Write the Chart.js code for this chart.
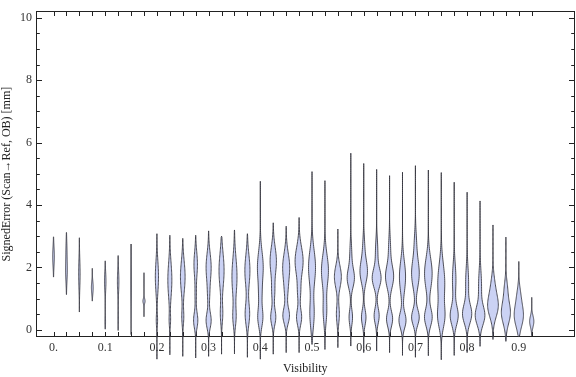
<!DOCTYPE html>
<html>
<head>
<meta charset="utf-8">
<script src="https://cdn.jsdelivr.net/npm/chart.js@4"></script>
<style>
  body { margin: 0; background: #fff; }
  #wrap { width: 576px; height: 377px; }
</style>
</head>
<body>
<div id="wrap"><canvas id="violinChart" width="576" height="377"></canvas></div>
<script>
// one violin per visibility bin
const visibility = [0, 0.025, 0.05, 0.075, 0.1, 0.125, 0.15, 0.175, 0.2, 0.225,
  0.25, 0.275, 0.3, 0.325, 0.35, 0.375, 0.4, 0.425, 0.45, 0.475,
  0.5, 0.525, 0.55, 0.575, 0.6, 0.625, 0.65, 0.675, 0.7, 0.725,
  0.75, 0.775, 0.8, 0.825, 0.85, 0.875, 0.9, 0.925];

const errMin = [1.69, 1.13, 0.57, 0.92, 0.02, -0.02, -0.15, 0.42, -0.94, -0.8,
  -0.85, -0.9, -0.85, -0.78, -0.77, -0.88, -0.94, -0.78, -0.73, -0.73,
  -0.47, -0.63, -0.57, -0.52, -0.73, -0.68, -0.73, -0.82, -0.88, -0.83,
  -0.96, -0.82, -0.73, -0.53, -0.31, -0.37, -0.21, -0.19];

const errMax = [2.98, 3.12, 2.95, 1.97, 2.21, 2.38, 2.75, 1.83, 3.08, 3.03,
  2.93, 3.03, 3.17, 3.0, 3.2, 3.08, 4.76, 3.43, 3.32, 3.6,
  5.07, 4.78, 3.23, 5.66, 5.33, 5.14, 4.94, 5.05, 5.26, 5.12,
  5.04, 4.73, 4.41, 4.13, 3.36, 2.97, 2.19, 1.04];

// density modes per violin: [centre (mm), relative density, spread (mm)]
const densityModes = [
  [[2.35, 0.16, 0.3]],
  [[1.9, 0.16, 0.35], [2.6, 0.08, 0.3]],
  [[1.8, 0.14, 0.45]],
  [[1.35, 0.17, 0.2]],
  [[1.55, 0.14, 0.3], [0.25, 0.06, 0.15]],
  [[1.55, 0.14, 0.35], [0.4, 0.04, 0.2]],
  [[1.4, 0.06, 0.6]],
  [[0.92, 0.2, 0.08]],
  [[1.7, 0.3, 0.5], [0.3, 0.12, 0.2]],
  [[1.6, 0.38, 0.55], [0.3, 0.12, 0.2]],
  [[1.7, 0.44, 0.5], [0.4, 0.18, 0.25]],
  [[2.1, 0.33, 0.4], [0.3, 0.4, 0.25], [1.1, 0.12, 0.3]],
  [[2.0, 0.48, 0.45], [0.3, 0.48, 0.25], [1.1, 0.15, 0.3]],
  [[1.9, 0.48, 0.55], [0.5, 0.22, 0.3]],
  [[1.7, 0.48, 0.6], [0.4, 0.28, 0.3]],
  [[1.9, 0.48, 0.5], [0.5, 0.42, 0.35]],
  [[2.0, 0.55, 0.5], [0.4, 0.48, 0.3], [1.1, 0.2, 0.3]],
  [[2.2, 0.6, 0.45], [0.4, 0.48, 0.25], [1.2, 0.25, 0.3]],
  [[2.0, 0.66, 0.45], [0.45, 0.62, 0.25], [1.2, 0.2, 0.3]],
  [[2.2, 0.76, 0.45], [0.4, 0.48, 0.25], [1.2, 0.25, 0.3]],
  [[2.0, 0.66, 0.55], [0.5, 0.4, 0.45]],
  [[1.9, 0.66, 0.5], [0.6, 0.33, 0.4]],
  [[1.7, 0.66, 0.35], [0.5, 0.28, 0.3]],
  [[1.65, 0.66, 0.3], [0.4, 0.33, 0.25], [2.4, 0.18, 0.4]],
  [[1.85, 0.68, 0.35], [0.4, 0.43, 0.25], [2.6, 0.18, 0.4]],
  [[1.65, 0.82, 0.3], [0.45, 0.48, 0.25], [2.5, 0.22, 0.4]],
  [[1.7, 0.76, 0.35], [0.35, 0.58, 0.25], [2.6, 0.18, 0.4]],
  [[1.7, 0.58, 0.5], [0.3, 0.66, 0.25]],
  [[1.8, 0.72, 0.45], [0.4, 0.72, 0.25], [2.8, 0.18, 0.4]],
  [[1.8, 0.72, 0.5], [0.4, 0.72, 0.28]],
  [[1.5, 0.66, 0.6], [0.4, 0.58, 0.35]],
  [[1.6, 0.33, 0.5], [0.45, 0.74, 0.3]],
  [[1.5, 0.28, 0.5], [0.5, 0.84, 0.3]],
  [[1.4, 0.28, 0.5], [0.45, 0.87, 0.3]],
  [[0.75, 0.95, 0.35], [1.4, 0.33, 0.35]],
  [[0.55, 0.85, 0.35], [1.3, 0.28, 0.3]],
  [[0.45, 0.85, 0.35], [1.1, 0.28, 0.3]],
  [[0.27, 0.4, 0.18]]
];

const xTickValues = [0, 0.1, 0.2, 0.3, 0.4, 0.5, 0.6, 0.7, 0.8, 0.9];
const yTickValues = [0, 2, 4, 6, 8, 10];

const SERIF = "'Liberation Serif', 'Times New Roman', serif";
const HALF_WIDTH = 0.0102; // x units for relative density 1

const frameTicks = {
  id: "frameTicks",
  afterDraw(chart) {
    const { ctx, chartArea: a, scales: { x, y } } = chart;
    const L = Math.round(a.left) + 0.5;
    const R = Math.round(a.right) - 0.5;
    const T = Math.round(a.top) + 0.5;
    const B = Math.round(a.bottom) - 0.5;
    ctx.save();
    ctx.strokeStyle = "#222";
    ctx.lineWidth = 1;
    ctx.strokeRect(L, T, R - L, B - T);
    ctx.beginPath();
    visibility.forEach(v => {
      const px = Math.round(x.getPixelForValue(v)) + 0.5;
      ctx.moveTo(px, B); ctx.lineTo(px, B - 4.5);
      ctx.moveTo(px, T); ctx.lineTo(px, T + 4.5);
    });
    for (let k = 0; k <= 20; k++) {
      const py = Math.round(y.getPixelForValue(k * 0.5)) + 0.5;
      const len = k % 4 === 0 ? 5.5 : 3.3;
      ctx.moveTo(L, py); ctx.lineTo(L + len, py);
      ctx.moveTo(R, py); ctx.lineTo(R - len, py);
    }
    ctx.stroke();
    ctx.restore();
  }
};

const violins = {
  id: "violins",
  afterDraw(chart) {
    const { ctx, scales: { x, y } } = chart;
    ctx.save();
    ctx.fillStyle = "#cbd2f4";
    ctx.strokeStyle = "rgba(50,50,60,0.85)";
    ctx.lineWidth = 1;
    ctx.lineJoin = "round";
    visibility.forEach((v, i) => {
      const steps = 90;
      const right = [];
      const left = [];
      for (let k = 0; k <= steps; k++) {
        const e = errMin[i] + (errMax[i] - errMin[i]) * k / steps;
        let w = 0;
        if (k > 0 && k < steps) {
          densityModes[i].forEach(([c, h, s]) => {
            w += h * Math.exp(-0.5 * ((e - c) / s) ** 2);
          });
        }
        const py = y.getPixelForValue(e);
        right.push([x.getPixelForValue(v + w * HALF_WIDTH), py]);
        left.push([x.getPixelForValue(v - w * HALF_WIDTH), py]);
      }
      ctx.beginPath();
      right.forEach(([px, py], k) => k ? ctx.lineTo(px, py) : ctx.moveTo(px, py));
      for (let k = left.length - 1; k >= 0; k--) ctx.lineTo(left[k][0], left[k][1]);
      ctx.closePath();
      ctx.fill();
      ctx.stroke();
    });
    ctx.restore();
  }
};

const ctx = document.getElementById("violinChart");

const violinChart = new Chart(ctx, {
  type: "scatter",
  data: {
    datasets: [{
      label: "SignedError",
      data: visibility.map((v, i) => ({ x: v, y: errMax[i] })),
      pointRadius: 0,
      showLine: false
    }]
  },
  options: {
    responsive: false,
    animation: false,
    layout: { padding: { top: 4, right: 1.5, left: 0, bottom: 0 } },
    plugins: {
      legend: { display: false },
      tooltip: { enabled: false }
    },
    scales: {
      x: {
        type: "linear",
        min: -0.0339,
        max: 1.0077,
        grid: { display: false, drawTicks: false },
        border: { display: false },
        afterFit(scale) { scale.height = 40; },
        afterBuildTicks(scale) { scale.ticks = xTickValues.map(v => ({ value: v })); },
        ticks: {
          padding: 4,
          color: "#333",
          font: { family: SERIF, size: 12 },
          callback: v => (v === 0 ? "0." : v.toFixed(1))
        },
        title: {
          display: true,
          text: "Visibility",
          color: "#222",
          padding: { top: 0, bottom: 1 },
          font: { family: SERIF, size: 12 }
        }
      },
      y: {
        type: "linear",
        min: -0.23,
        max: 10.21,
        grid: { display: false, drawTicks: false },
        border: { display: false },
        afterFit(scale) { scale.width = 36; },
        afterBuildTicks(scale) { scale.ticks = yTickValues.map(v => ({ value: v })); },
        ticks: {
          padding: 4,
          color: "#333",
          font: { family: SERIF, size: 12 },
          callback: v => String(v)
        },
        title: {
          display: true,
          text: "SignedError (Scan\u2192Ref, OB) [mm]",
          color: "#222",
          padding: { top: 0, bottom: 0 },
          font: { family: SERIF, size: 12 }
        }
      }
    }
  },
  plugins: [frameTicks, violins]
});
</script>
</body>
</html>
